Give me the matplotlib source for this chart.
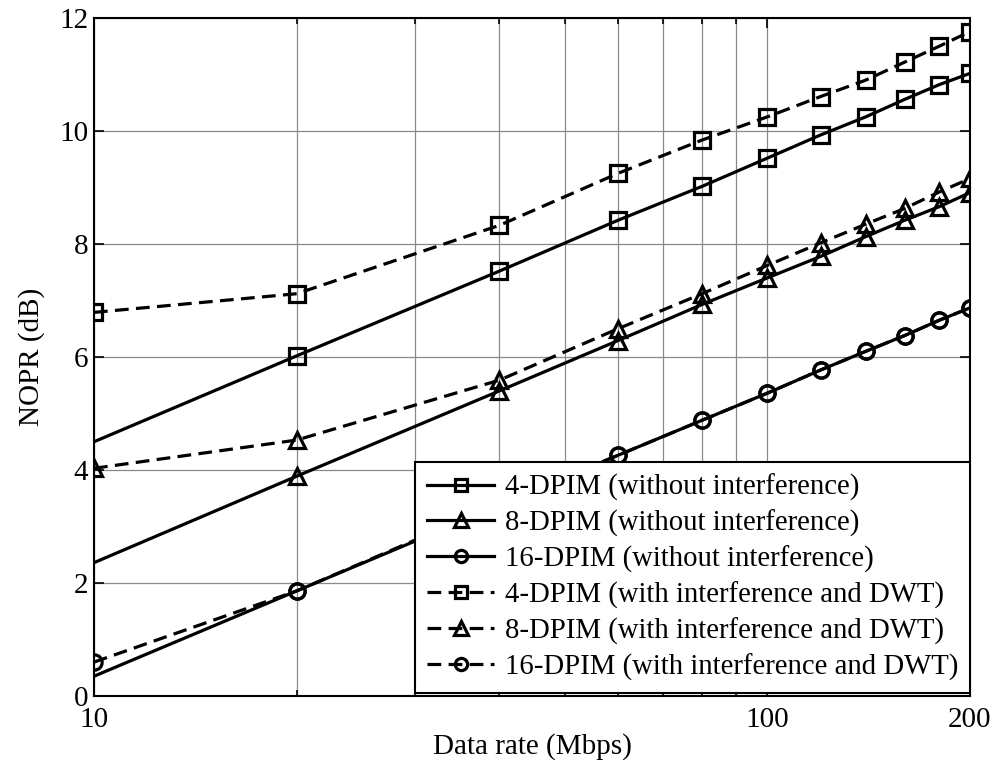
import numpy as np
import matplotlib
matplotlib.use("Agg")
import matplotlib.pyplot as plt
from matplotlib.ticker import FixedLocator, NullFormatter

plt.rcParams['font.family'] = ['Liberation Serif', 'DejaVu Serif']

# data rate (Mbps)
rate = [10, 20, 40, 60, 80, 100, 120, 140, 160, 180, 200]

# NOPR (dB)
nopr4 = [4.50, 6.02, 7.52, 8.42, 9.02, 9.52, 9.93, 10.25, 10.56, 10.82, 11.02]
nopr8 = [2.36, 3.89, 5.40, 6.29, 6.93, 7.40, 7.78, 8.13, 8.42, 8.66, 8.91]
nopr16 = [0.35, 1.86, 3.37, 4.26, 4.88, 5.36, 5.77, 6.10, 6.38, 6.65, 6.87]
nopr4_dwt = [6.79, 7.12, 8.33, 9.25, 9.84, 10.25, 10.61, 10.90, 11.22, 11.50, 11.76]
nopr8_dwt = [4.03, 4.53, 5.59, 6.50, 7.12, 7.62, 8.02, 8.35, 8.63, 8.92, 9.16]
nopr16_dwt = [0.60, 1.86, 3.40, 4.26, 4.88, 5.36, 5.77, 6.10, 6.38, 6.65, 6.87]

labels = ["4-DPIM (without interference)",
          "8-DPIM (without interference)",
          "16-DPIM (without interference)",
          "4-DPIM (with interference and DWT)",
          "8-DPIM (with interference and DWT)",
          "16-DPIM (with interference and DWT)"]

fig = plt.figure(figsize=(10.01, 7.6), dpi=100)
ax = fig.add_axes([0.0939, 0.0842, 0.8751, 0.8921])

lw = 2.3
ms = 11
mew = 2.3
dash = (4.3, 2.3)
skip_first = list(range(1, len(rate)))

ax.plot(rate, nopr4, 'k-', marker='s', ms=ms, mfc='none', mew=mew, lw=lw, markevery=skip_first, label=labels[0])
ax.plot(rate, nopr8, 'k-', marker='^', ms=ms + 1, mfc='none', mew=mew, lw=lw, markevery=skip_first, label=labels[1])
ax.plot(rate, nopr16, 'k-', marker='o', ms=ms, mfc='none', mew=mew, lw=lw, markevery=skip_first, label=labels[2])
ax.plot(rate, nopr4_dwt, 'k--', marker='s', ms=ms, mfc='none', mew=mew, lw=lw, dashes=dash, label=labels[3])
ax.plot(rate, nopr8_dwt, 'k--', marker='^', ms=ms + 1, mfc='none', mew=mew, lw=lw, dashes=dash, label=labels[4])
ax.plot(rate, nopr16_dwt, 'k--', marker='o', ms=ms, mfc='none', mew=mew, lw=lw, dashes=dash, label=labels[5])

ax.set_xscale('log')
ax.set_xlim(10, 200)
ax.set_ylim(0, 12)
ax.xaxis.set_major_locator(FixedLocator([10, 100, 200]))
ax.set_xticklabels(['10', '100', '200'])
ax.xaxis.set_minor_locator(FixedLocator([20, 30, 40, 50, 60, 70, 80, 90]))
ax.xaxis.set_minor_formatter(NullFormatter())
ax.set_yticks([0, 2, 4, 6, 8, 10, 12])

ax.grid(True, which='major', color='#8a8a8a', lw=0.9)
ax.grid(True, which='minor', axis='x', color='#8a8a8a', lw=0.9)
ax.set_axisbelow(True)

ax.tick_params(which='both', direction='in', top=True, right=True, labelsize=21, width=1.2)
ax.tick_params(which='major', length=7)
ax.tick_params(which='minor', length=4)
ax.tick_params(axis='x', pad=8)
ax.tick_params(axis='y', pad=4)
for sp in ax.spines.values():
    sp.set_linewidth(1.5)

ax.set_xlabel('Data rate (Mbps)', fontsize=21, labelpad=0)
ax.set_ylabel('NOPR (dB)', fontsize=21, labelpad=10)

leg = ax.legend(loc='lower right', bbox_to_anchor=(1.0, 0.005), fontsize=20.7,
                handlelength=2.35, handletextpad=0.35, labelspacing=0.3,
                borderpad=0.42, borderaxespad=0, markerscale=0.8,
                fancybox=False, framealpha=1, edgecolor='black')
leg.get_frame().set_linewidth(1.5)

fig.savefig('out.png', dpi=100)
